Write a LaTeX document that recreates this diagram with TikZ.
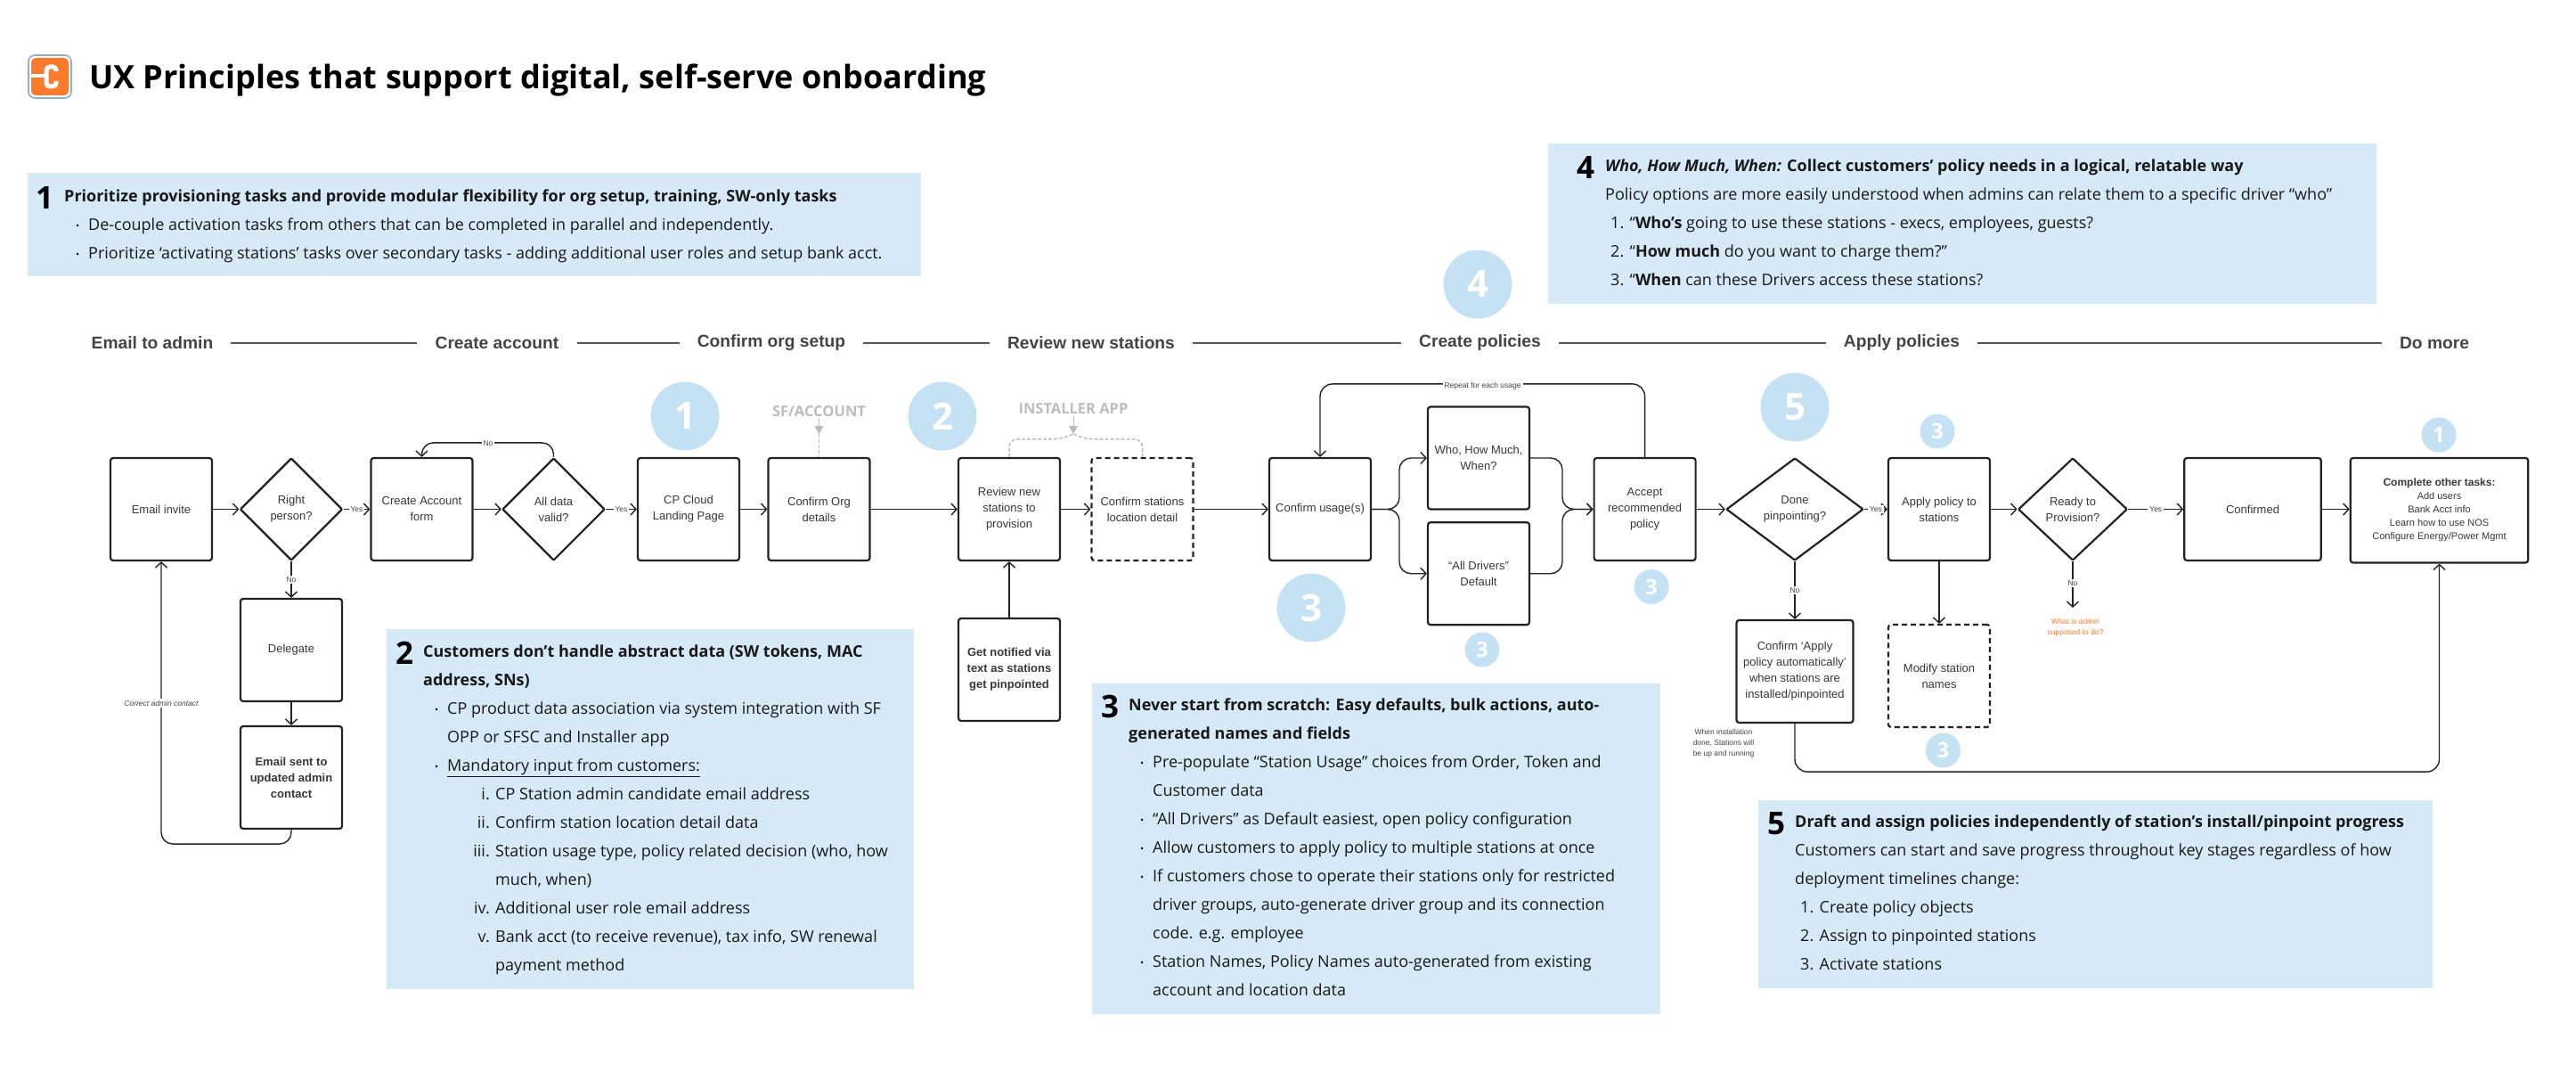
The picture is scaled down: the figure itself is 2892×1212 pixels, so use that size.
\documentclass[tikz,border=0pt]{standalone}
\usepackage{fontspec}
\setmainfont{Open Sans}
\newfontfamily\flowfont{Liberation Sans}
\usetikzlibrary{arrows.meta,positioning,calc,shapes.geometric}
\definecolor{panelblue}{HTML}{D6E9F7}
\definecolor{badgeblue}{HTML}{C5E1F4}
\definecolor{inkdark}{HTML}{222222}
\definecolor{stagegray}{HTML}{555555}
\definecolor{systemgray}{HTML}{BDBDBD}
\definecolor{plugorange}{HTML}{F97B2B}
\definecolor{plugrim}{HTML}{8FB0C4}
\newcommand{\bul}{\hspace*{13pt}\makebox[14pt][l]{\raisebox{1pt}{\fontsize{11}{11}\selectfont •}}}
\newcommand{\bulc}{\hspace*{27pt}}
\newcommand{\rom}[1]{\makebox[74.6pt][r]{#1}\hspace*{6.4pt}}
\newcommand{\romc}{\hspace*{81pt}}
\newcommand{\numl}[1]{\hspace*{6pt}\makebox[21.5pt][l]{#1}}
\tikzset{
  blk/.style={draw=inkdark, line width=2.2pt, rounded corners=3pt, align=center, inner sep=2pt,
              fill=white, text=inkdark!90,
              font=\flowfont\fontsize{13}{18}\selectfont, minimum width=114pt, minimum height=115pt},
  dsh/.style={blk, dash pattern=on 6pt off 4pt},
  dec/.style={blk, diamond, aspect=1, rounded corners=1pt, inner sep=0pt, minimum width=115pt},
  bld/.style={font=\flowfont\bfseries\fontsize{13}{18}\selectfont},
  sig/.style={-{Straight Barb[length=6pt,width=13pt,line width=1.4pt]}, line width=1.4pt, draw=inkdark},
  lbl/.style={font=\flowfont\fontsize{8.5}{12}\selectfont, inner sep=2pt, fill=white, text=inkdark!85, align=center},
  stage/.style={font=\flowfont\bfseries\fontsize{19.2}{22}\selectfont, text=stagegray!80!black, inner xsep=20pt},
  stageln/.style={draw=stagegray, line width=2.4pt},
  panel/.style={fill=panelblue, anchor=north west, inner sep=0pt},
  ptxt/.style={anchor=north west, inner sep=0pt, align=left, text=black!90,
               font=\fontsize{18}{32}\selectfont},
  pnum/.style={inner sep=0pt, font=\bfseries\fontsize{35}{35}\selectfont},
  badge/.style={circle, fill=badgeblue, text=white, minimum size=77pt, inner sep=0pt,
                font=\bfseries\fontsize{42}{42}\selectfont},
  badgesm/.style={circle, fill=badgeblue, text=white, minimum size=39pt, inner sep=0pt,
                  font=\bfseries\fontsize{24}{24}\selectfont},
  sys/.style={font=\bfseries\fontsize{16.5}{20}\selectfont, text=systemgray, inner sep=1pt},
  sysln/.style={draw=systemgray, line width=1.5pt, dash pattern=on 4pt off 2pt},
  sysarr/.style={-{Triangle[length=9pt,width=10pt]}, draw=systemgray, line width=1pt},
}
\begin{document}
\begin{tikzpicture}[x=1pt,y=-1pt]
  \useasboundingbox (0,0) rectangle (2892,1212);
  \draw[draw=plugrim, line width=1.6pt, fill=white, rounded corners=7pt] (32,62) rectangle (80,110);
  \fill[plugorange, rounded corners=5pt] (35,65) rectangle (77,107);
  \draw[white, line width=4pt] (35,85) -- (50,85);
  \draw[white, line width=5pt, rounded corners=4pt] (63,80) -- (63,75) -- (52,75) -- (52,97) -- (63,97) -- (63,91);
  \node[anchor=west, inner sep=0pt, font=\bfseries\fontsize{36.1}{40}\selectfont] (title) at (100,90) {UX Principles that support digital, self-serve onboarding};

  \node[panel, minimum width=1003pt, minimum height=116pt] (pan1) at (31,194) {};
  \node[pnum] (num1) at (50,222) {1};
  \node[ptxt] (txt1) at (72,212.5) {\textbf{Prioritize provisioning tasks and provide modular flexibility for org setup, training, SW-only tasks}\\
    \bul De-couple activation tasks from others that can be completed in parallel and independently.\\
    \bul Prioritize ‘activating stations’ tasks over secondary tasks - adding additional user roles and setup bank acct.};

  \node[panel, minimum width=592pt, minimum height=404pt] (pan2) at (434,706) {};
  \node[pnum] (num2) at (454,733) {2};
  \node[ptxt] (txt2) at (475,723.5) {\textbf{Customers don’t handle abstract data (SW tokens, MAC}\\
    \textbf{address, SNs)}\\
    \bul CP product data association via system integration with SF\\
    \bulc OPP or SFSC and Installer app\\
    \bul \underline{Mandatory input from customers:}\\
    \rom{i.}CP Station admin candidate email address\\
    \rom{ii.}Confirm station location detail data\\
    \rom{iii.}Station usage type, policy related decision (who, how\\
    \romc much, when)\\
    \rom{iv.}Additional user role email address\\
    \rom{v.}Bank acct (to receive revenue), tax info, SW renewal\\
    \romc payment method};

  \node[panel, minimum width=638pt, minimum height=371pt] (pan3) at (1226,767) {};
  \node[pnum] (num3) at (1246,793) {3};
  \node[ptxt] (txt3) at (1267,783.5) {\textbf{Never start from scratch: Easy defaults, bulk actions, auto-}\\
    \textbf{generated names and fields}\\
    \bul Pre-populate “Station Usage” choices from Order, Token and\\
    \bulc Customer data\\
    \bul “All Drivers” as Default easiest, open policy configuration\\
    \bul Allow customers to apply policy to multiple stations at once\\
    \bul If customers chose to operate their stations only for restricted\\
    \bulc driver groups, auto-generate driver group and its connection\\
    \bulc code. e.g. employee\\
    \bul Station Names, Policy Names auto-generated from existing\\
    \bulc account and location data};

  \node[panel, minimum width=930pt, minimum height=180pt] (pan4) at (1738,161) {};
  \node[pnum] (num4) at (1780,188) {4};
  \node[ptxt] (txt4) at (1802,178.5) {\textbf{\textit{Who, How Much, When:} Collect customers’ policy needs in a logical, relatable way}\\
    Policy options are more easily understood when admins can relate them to a specific driver “who”\\
    \numl{1.}“\textbf{Who’s} going to use these stations - execs, employees, guests?\\
    \numl{2.}“\textbf{How much} do you want to charge them?”\\
    \numl{3.}“\textbf{When} can these Drivers access these stations?};

  \node[panel, minimum width=757pt, minimum height=211pt] (pan5) at (1974,898) {};
  \node[pnum] (num5) at (1994,924) {5};
  \node[ptxt] (txt5) at (2015,914.5) {\textbf{Draft and assign policies independently of station’s install/pinpoint progress}\\
    Customers can start and save progress throughout key stages regardless of how\\
    deployment timelines change:\\
    \numl{1.}Create policy objects\\
    \numl{2.}Assign to pinpointed stations\\
    \numl{3.}Activate stations};

  \node[stage] (stg1) at (171,385) {Email to admin};
  \node[stage] (stg2) at (558,385) {Create account};
  \node[stage] (stg3) at (866,385) {Confirm org setup};
  \node[stage] (stg4) at (1225,385) {Review new stations};
  \node[stage] (stg5) at (1661.5,385) {Create policies};
  \node[stage] (stg6) at (2135,385) {Apply policies};
  \node[stage] (stg7) at (2733,385) {Do more};
  \draw[stageln] (stg1) -- (stg2);
  \draw[stageln] (stg2) -- (stg3);
  \draw[stageln] (stg3) -- (stg4);
  \draw[stageln] (stg4) -- (stg5);
  \draw[stageln] (stg5) -- (stg6);
  \draw[stageln] (stg6) -- (stg7);

  \node[blk] (invite) at (181,571.5) {Email invite};
  \node[dec] (rightp) at (327,571.5) {Right\\person?};
  \node[blk] (acctform) at (473.5,571.5) {Create Account\\form};
  \node[dec] (valid) at (621.5,571.5) {All data\\valid?};
  \node[blk] (landing) at (773,571.5) {CP Cloud\\Landing Page};
  \node[blk] (orgdet) at (919.5,571.5) {Confirm Org\\details};
  \node[blk] (review) at (1133,571.5) {Review new\\stations to\\provision};
  \node[dsh] (locdet) at (1282.5,571.5) {Confirm stations\\location detail};
  \node[blk] (usage) at (1482,571.5) {Confirm usage(s)};
  \node[blk] (whohow) at (1660,514) {Who, How Much,\\When?};
  \node[blk] (alldrv) at (1660,643.7) {“All Drivers”\\Default};
  \node[blk] (accept) at (1846.6,571.5) {Accept\\recommended\\policy};
  \node[dec, minimum width=154pt] (donep) at (2015,571.5) {Done\\pinpointing?};
  \node[blk] (applyp) at (2177,571.5) {Apply policy to\\stations};
  \node[dec, minimum width=122.6pt] (ready) at (2327,571.5) {Ready to\\Provision?};
  \node[blk, minimum width=153.5pt] (confd) at (2529,571.5) {Confirmed};
  \node[blk, minimum width=199.5pt, minimum height=117.5pt] (othert) at (2738.5,572.7) {{\bfseries\fontsize{12}{15}\selectfont Complete other tasks:}\\[-3pt]
    {\fontsize{11}{15}\selectfont Add users}\\[-3pt]
    {\fontsize{11}{15}\selectfont Bank Acct info}\\[-3pt]
    {\fontsize{11}{15}\selectfont Learn how to use NOS}\\[-3pt]
    {\fontsize{11}{15}\selectfont Configure Energy/Power Mgmt}};
  \node[blk] (deleg) at (327,729.5) {Delegate};
  \node[blk, bld] (emsent) at (327,872.5) {Email sent to\\updated admin\\contact};
  \node[blk, bld] (notif) at (1133,751.5) {Get notified via\\text as stations\\get pinpointed};
  \node[blk, minimum width=131pt] (autoapp) at (2015,753.5) {Confirm ‘Apply\\policy automatically’\\when stations are\\installed/pinpointed};
  \node[dsh] (modify) at (2177,758.5) {Modify station\\names};

  \node[badge] (bdg1) at (769,467) {1};
  \node[badge] (bdg2) at (1058,467) {2};
  \node[badge] (bdg3) at (1472,682) {3};
  \node[badge] (bdg4) at (1659,319) {4};
  \node[badge] (bdg5) at (2015,457) {5};
  \node[badgesm] (sm3a) at (1854,658.5) {3};
  \node[badgesm] (sm3b) at (1664,729) {3};
  \node[badgesm] (sm3c) at (2175,484) {3};
  \node[badgesm] (sm3d) at (2181.5,842) {3};
  \node[badgesm] (sm1a) at (2738,488) {1};

  \node[sys] (sfacct) at (919.5,462) {SF/ACCOUNT};
  \node[sys] (instapp) at (1205,459) {INSTALLER APP};
  \coordinate (sftip) at (919.5,487);
  \coordinate (insttip) at (1205,487);
  \draw[sysarr] (sfacct.south) -- (sftip);
  \draw[sysln] (sftip) -- (orgdet.north);
  \draw[sysarr] (instapp.south) -- (insttip);
  \draw[sysln, rounded corners=9pt] (review.north) -- ++(0,-20) -- ++(58,0) -- (insttip);
  \draw[sysln, rounded corners=9pt] (locdet.north) -- ++(0,-20) -- ++(-63,0) -- (insttip);

  \draw[sig] (invite) -- (rightp);
  \draw[sig] (rightp) -- node[lbl]{Yes} (acctform);
  \draw[sig] (acctform) -- (valid);
  \draw[sig] (valid) -- node[lbl]{Yes} (landing);
  \draw[sig] (landing) -- (orgdet);
  \draw[sig] (orgdet) -- (review);
  \draw[sig] (review) -- (locdet);
  \draw[sig] (locdet) -- (usage);
  \draw[sig] (accept) -- (donep);
  \draw[sig] (donep) -- node[lbl]{Yes} (applyp);
  \draw[sig] (applyp) -- (ready);
  \draw[sig] (ready) -- node[lbl]{Yes} (confd);
  \draw[sig] (confd) -- (othert.west |- confd);
  \draw[sig] (rightp) -- node[lbl]{No} (deleg);
  \draw[sig] (deleg) -- (emsent);
  \draw[sig] (notif) -- (review);
  \draw[sig] (donep) -- node[lbl]{No} (autoapp);
  \draw[sig] (applyp) -- (modify);

  \draw[sig, rounded corners=13pt] (valid.north) -- ++(0,-16) -| (acctform.north);
  \node[lbl] (nolab) at (548,498) {No};

  \draw[sig, rounded corners=13pt] (emsent.south) -- ++(0,16) -| (invite.south);
  \node[lbl, font=\flowfont\itshape\fontsize{8.5}{12}\selectfont] (corrlab) at (181,789) {Correct admin contact};

  \coordinate (forkin) at (1571,571.5);
  \coordinate (forkout) at (1754,571.5);
  \draw[sig, rounded corners=13pt] (usage.east) -- (forkin) |- (whohow.west);
  \draw[sig, rounded corners=13pt] (usage.east) -- (forkin) |- (alldrv.west);
  \draw[sig, rounded corners=13pt] (whohow.east) -| (forkout) -- (accept.west);
  \draw[sig, rounded corners=13pt] (alldrv.east) -| (forkout) -- (accept.west);

  \draw[sig, rounded corners=14pt] (accept.north) -- ++(0,-82) -| (usage.north);
  \node[lbl] (replab) at (1664.5,433) {Repeat for each usage};

  \draw[sig, rounded corners=14pt] (autoapp.south) -- ++(0,54) -| (othert.south);
  \node[lbl, fill=none] (whenlab) at (1935,834) {When installation\\done, Stations will\\be up and running};

  \coordinate (readyend) at (2327,682);
  \draw[sig] (ready.south) -- node[lbl, pos=0.47]{No} (readyend);
  \node[lbl, fill=none, text=plugorange] (whatadm) at (2330,704) {What is admin\\supposed to do?};
\end{tikzpicture}
\end{document}
